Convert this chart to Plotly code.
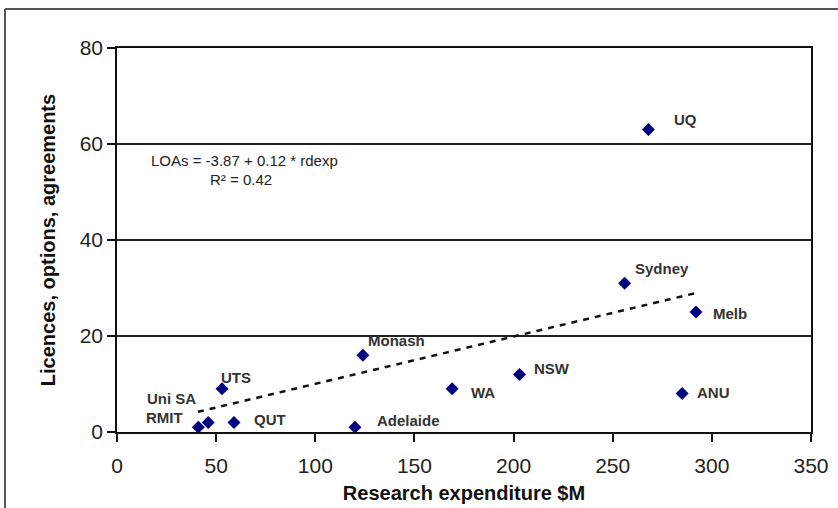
import plotly.graph_objects as go

# Data
universities = ["UQ", "Sydney", "Melb", "ANU", "NSW", "WA", "Monash",
                "Adelaide", "UTS", "QUT", "Uni SA", "RMIT"]
research_exp = [268, 256, 292, 285, 203, 169, 124, 120, 53, 59, 46, 41]
loas = [63, 31, 25, 8, 12, 9, 16, 1, 9, 2, 2, 1]

trend_x = [40.8, 292.4]
trend_y = [4.2, 29.0]

x_ticks = [0, 50, 100, 150, 200, 250, 300, 350]
y_ticks = [0, 20, 40, 60, 80]

equation_text = "LOAs = -3.87 + 0.12 * rdexp"
r2_text = "R² = 0.42"

FONT = "Liberation Sans, Arial, sans-serif"

fig = go.Figure()

fig.add_trace(go.Scatter(
    x=trend_x, y=trend_y, mode="lines",
    line=dict(color="#111111", width=2.5, dash="6px,6px"),
    hoverinfo="skip", showlegend=False,
))

fig.add_trace(go.Scatter(
    x=research_exp, y=loas, mode="markers",
    marker=dict(symbol="diamond", size=10, color="#000080"),
    showlegend=False,
))

# label offsets (pixels) and anchors
label_style = {
    "UQ": (24, 10, "left"),
    "Sydney": (8, 15, "left"),
    "Melb": (15, -1, "left"),
    "ANU": (13, 1, "left"),
    "NSW": (12, 6, "left"),
    "WA": (17, -4, "left"),
    "Monash": (3, 15, "left"),
    "Adelaide": (20, 7, "left"),
    "UTS": (-3, 11, "left"),
    "QUT": (18, 3, "left"),
    "Uni SA": (-10, 24, "right"),
    "RMIT": (-13, 10, "right"),
}
for name, xv, yv in zip(universities, research_exp, loas):
    dx, dy, anchor = label_style[name]
    fig.add_annotation(
        x=xv, y=yv, text=name, showarrow=False,
        xanchor=anchor, yanchor="middle", xshift=dx, yshift=dy,
        font=dict(family=FONT, size=15, color="#333333", weight="bold"),
    )

fig.add_annotation(
    x=16, y=56.5, text=equation_text, showarrow=False,
    xanchor="left", yanchor="middle",
    font=dict(family=FONT, size=15, color="#222222"),
)
fig.add_annotation(
    x=46, y=52.6, text=r2_text, showarrow=False,
    xanchor="left", yanchor="middle",
    font=dict(family=FONT, size=15, color="#222222"),
)

# outer frame (top and left edges)
fig.add_shape(type="line", xref="paper", yref="paper",
              x0=-0.1614, x1=1.05, y0=1.1016, y1=1.1016,
              line=dict(color="#555555", width=2))
fig.add_shape(type="line", xref="paper", yref="paper",
              x0=-0.1614, x1=-0.1614, y0=1.1016, y1=-0.25,
              line=dict(color="#555555", width=2))

fig.update_layout(
    width=838, height=508,
    margin=dict(l=117, r=27, t=48, b=76),
    paper_bgcolor="white", plot_bgcolor="white",
    font=dict(family=FONT, color="#222222"),
    xaxis=dict(
        range=[0, 350], tickvals=x_ticks, ticks="outside", ticklen=8,
        tickwidth=1.5, tickcolor="#111111", ticklabelstandoff=6,
        showline=True, linecolor="#111111", linewidth=1.5, mirror=True,
        showgrid=False, zeroline=False, automargin=False,
        tickfont=dict(family=FONT, size=21, color="#222222"),
        title=dict(text="<b>Research expenditure $M</b>", standoff=10,
                   font=dict(family=FONT, size=20, color="#111111")),
    ),
    yaxis=dict(
        range=[0, 80], tickvals=y_ticks, ticks="outside", ticklen=8,
        tickwidth=1.5, tickcolor="#111111",
        showline=True, linecolor="#111111", linewidth=1.5, mirror=True,
        showgrid=True, gridcolor="#222222", gridwidth=1.5, zeroline=False,
        automargin=False,
        tickfont=dict(family=FONT, size=21, color="#222222"),
        title=dict(text="<b>Licences, options, agreements</b>", standoff=19,
                   font=dict(family=FONT, size=20, color="#111111")),
    ),
)

fig.write_html(
    "out.html",
    config={"displayModeBar": False},
    post_script="document.body.style.margin='0';document.body.style.overflow='hidden';",
)
